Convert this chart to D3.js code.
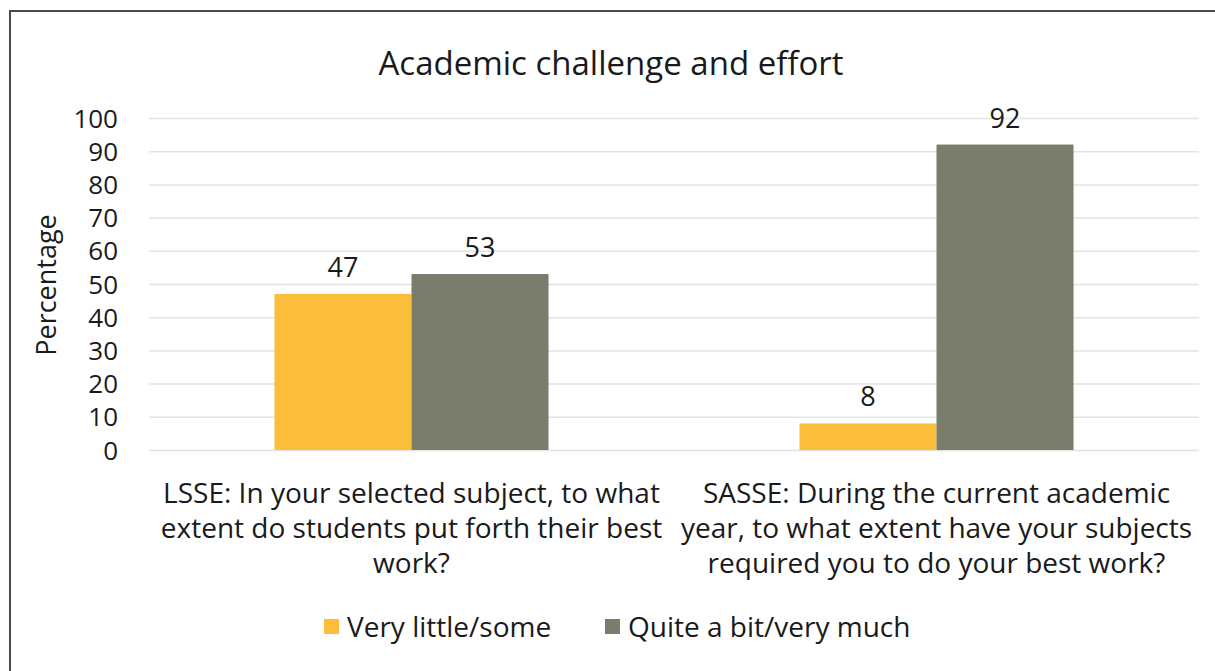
<!DOCTYPE html>
<html>
<head>
<meta charset="utf-8">
<script src="https://cdn.jsdelivr.net/npm/d3@7"></script>
<style>
  html, body { margin: 0; padding: 0; background: #fff; }
  svg { display: block; }
  text { font-family: "Open Sans", Lato, sans-serif; fill: #1a1a1a; }
</style>
</head>
<body>
<div id="chart"></div>
<script>
// Survey results: share of students by response group
const categories = ["LSSE", "SASSE"];
const categoryLines = [
  ["LSSE: In your selected subject, to what", "extent do students put forth their best", "work?"],
  ["SASSE: During the current academic", "year, to what extent have your subjects", "required you to do your best work?"]
];
const seriesNames = ["Very little/some", "Quite a bit/very much"];
const veryLittleSome = [47, 8];
const quiteABitVeryMuch = [53, 92];
const yTicks = [0, 10, 20, 30, 40, 50, 60, 70, 80, 90, 100];
const colors = ["#FBBE3B", "#7A7D6C"];

const W = 1215, H = 671;
const plot = { left: 149, right: 1199, top: 118, bottom: 450 };

const svg = d3.select("#chart").append("svg")
  .attr("width", W).attr("height", H);

svg.append("rect").attr("width", W).attr("height", H).attr("fill", "#fff");

// frame around the chart area
svg.append("rect")
  .attr("x", 10).attr("y", 11)
  .attr("width", 1400).attr("height", 900)
  .attr("fill", "none").attr("stroke", "#4a4a4a").attr("stroke-width", 2);

const x0 = d3.scaleBand().domain(categories)
  .range([plot.left, plot.right])
  .paddingInner(0.478).paddingOuter(0.239);
const x1 = d3.scaleBand().domain(seriesNames).range([0, x0.bandwidth()]);
const y = d3.scaleLinear().domain([0, 100]).range([plot.bottom, plot.top]);

// horizontal gridlines + tick labels
const yAxis = d3.axisLeft(y).tickValues(yTicks)
  .tickSize(-(plot.right - plot.left)).tickPadding(31);
const gy = svg.append("g").attr("transform", `translate(${plot.left},0)`).call(yAxis);
gy.select(".domain").remove();
gy.selectAll(".tick line").attr("stroke", "#e3e3e3").attr("stroke-width", 1.5);
gy.selectAll(".tick text")
  .style("font-size", "26px").style("font-family", "'Open Sans', sans-serif")
  .attr("fill", "#1a1a1a").attr("dy", "0.35em");

// bars
const rows = categories.map((c, i) => ({
  cat: c,
  values: [
    { series: seriesNames[0], value: veryLittleSome[i], color: colors[0] },
    { series: seriesNames[1], value: quiteABitVeryMuch[i], color: colors[1] }
  ]
}));

const groups = svg.append("g").selectAll("g").data(rows).join("g")
  .attr("transform", d => `translate(${x0(d.cat)},0)`);

groups.selectAll("rect").data(d => d.values).join("rect")
  .attr("x", d => x1(d.series))
  .attr("y", d => y(d.value))
  .attr("width", x1.bandwidth())
  .attr("height", d => y(0) - y(d.value))
  .attr("fill", d => d.color);

groups.selectAll("text.val").data(d => d.values).join("text")
  .attr("class", "val")
  .attr("x", d => x1(d.series) + x1.bandwidth() / 2)
  .attr("y", d => y(d.value) - 17)
  .attr("text-anchor", "middle")
  .style("font-size", "27px")
  .text(d => d.value);

// category labels
const catG = svg.append("g").selectAll("text").data(categories).join("text")
  .attr("x", d => x0(d) + x0.bandwidth() / 2)
  .attr("y", 503)
  .attr("text-anchor", "middle")
  .style("font-size", "28px");
catG.selectAll("tspan").data((d, i) => categoryLines[i]).join("tspan")
  .attr("x", function() { return this.parentNode.getAttribute("x"); })
  .attr("dy", (d, i) => i === 0 ? 0 : 35)
  .text(d => d);

// title
svg.append("text")
  .attr("x", 611).attr("y", 75)
  .attr("text-anchor", "middle")
  .style("font-size", "33px")
  .text("Academic challenge and effort");

// y-axis title
svg.append("text")
  .attr("transform", `translate(56,285) rotate(-90)`)
  .attr("text-anchor", "middle")
  .style("font-size", "27px")
  .text("Percentage");

// legend
const legendItems = [
  { name: seriesNames[0], color: colors[0], x: 324 },
  { name: seriesNames[1], color: colors[1], x: 605 }
];
const lg = svg.append("g").selectAll("g").data(legendItems).join("g")
  .attr("transform", d => `translate(${d.x},619)`);
lg.append("rect").attr("width", 15).attr("height", 15).attr("fill", d => d.color);
lg.append("text").attr("x", 23).attr("y", 8).attr("dy", "0.35em")
  .style("font-size", "28px").text(d => d.name);
</script>
</body>
</html>
